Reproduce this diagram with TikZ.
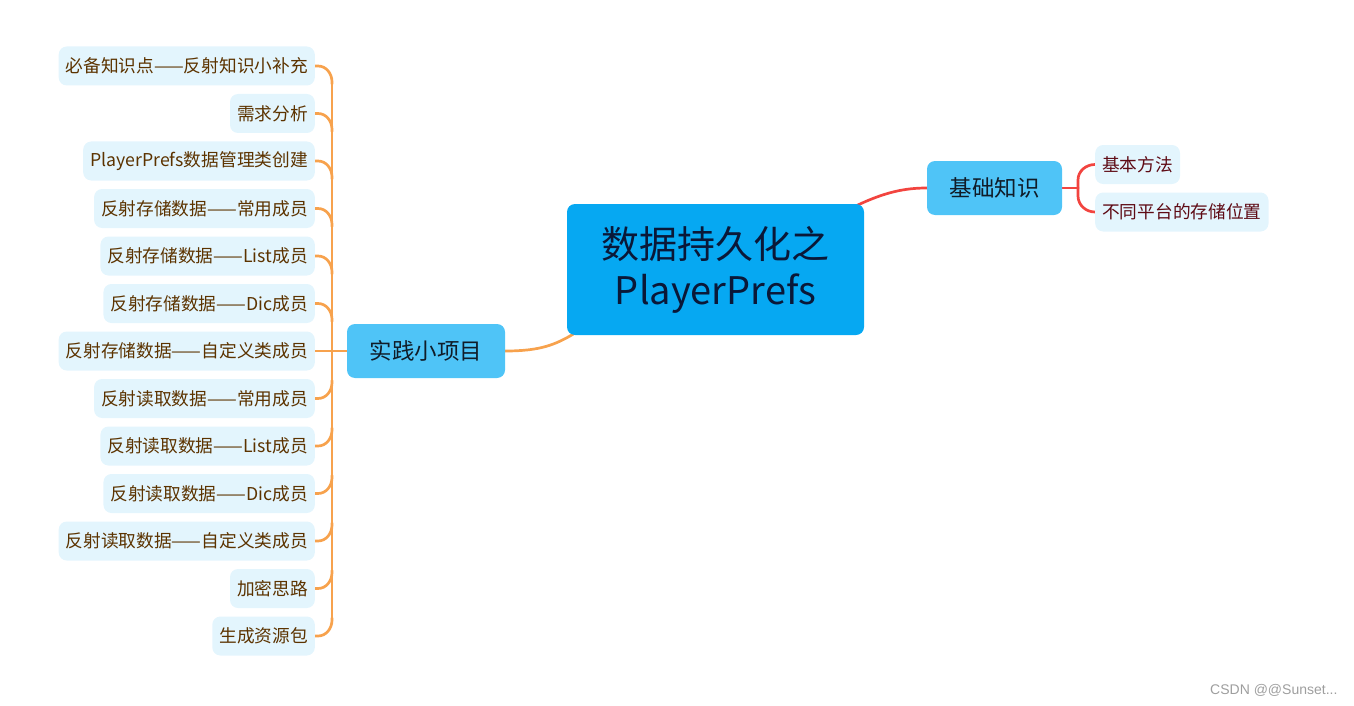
\documentclass[tikz,border=0pt]{standalone}
\usepackage{fontspec}
\setmainfont{Noto Sans CJK SC}
\newfontfamily\wmfont{Liberation Sans}
\pgfdeclarelayer{background}
\pgfsetlayers{background,main}
\definecolor{rootfill}{HTML}{06A8F2}
\definecolor{roottext}{HTML}{0A1838}
\definecolor{lonefill}{HTML}{4FC4F7}
\definecolor{lonetext}{HTML}{101C28}
\definecolor{ltwofill}{HTML}{E3F5FD}
\definecolor{lefttext}{HTML}{5C3300}
\definecolor{righttext}{HTML}{5E0A14}
\definecolor{orangeline}{HTML}{F7A24D}
\definecolor{redline}{HTML}{F2443F}
\tikzset{
  rootbox/.style={fill=rootfill, rounded corners=8pt, minimum width=297pt, minimum height=131pt,
    align=center, text=roottext, font=\fontsize{38}{46}\selectfont, inner sep=0pt},
  lonebox/.style={fill=lonefill, rounded corners=8pt, minimum height=54pt,
    text=lonetext, font=\fontsize{22.5}{26}\selectfont, inner sep=0pt},
  leafbox/.style={fill=ltwofill, rounded corners=8pt, minimum height=39pt, inner xsep=7pt, inner ysep=0pt,
    font=\fontsize{17.7}{20}\selectfont},
  leftleaf/.style={leafbox, anchor=east, text=lefttext},
  rightleaf/.style={leafbox, anchor=west, text=righttext},
  oline/.style={draw=orangeline, line width=2.7pt, line cap=round},
  rline/.style={draw=redline, line width=2.7pt, line cap=round},
}
\begin{document}
\begin{tikzpicture}[x=1pt,y=-1pt]
\useasboundingbox (0,0) rectangle (1354,706);
% root
\node[rootbox] (root) at (715.5,269.5) {数据持久化之\\PlayerPrefs};
% level one
\node[lonebox, minimum width=135pt] (jichu) at (994.5,188) {基础知识};
\node[lonebox, minimum width=158pt] (shijian) at (426,351) {实践小项目};
% right leaves
\node[rightleaf] (r1) at (1095,164.5) {基本方法};
\node[rightleaf] (r2) at (1095,212) {不同平台的存储位置};
% left leaves
\node[leftleaf] (l1) at (315,66) {必备知识点——反射知识小补充};
\node[leftleaf] (l2) at (315,113.5) {需求分析};
\node[leftleaf] (l3) at (315,161) {PlayerPrefs数据管理类创建};
\node[leftleaf] (l4) at (315,208.5) {反射存储数据——常用成员};
\node[leftleaf] (l5) at (315,256) {反射存储数据——List成员};
\node[leftleaf] (l6) at (315,303.5) {反射存储数据——Dic成员};
\node[leftleaf] (l7) at (315,351) {反射存储数据——自定义类成员};
\node[leftleaf] (l8) at (315,398.5) {反射读取数据——常用成员};
\node[leftleaf] (l9) at (315,446) {反射读取数据——List成员};
\node[leftleaf] (l10) at (315,493.5) {反射读取数据——Dic成员};
\node[leftleaf] (l11) at (315,541) {反射读取数据——自定义类成员};
\node[leftleaf] (l12) at (315,588.5) {加密思路};
\node[leftleaf] (l13) at (315,636) {生成资源包};
% watermark
\node[anchor=east, text=black!38, font=\wmfont\fontsize{14}{16}\selectfont] (wm) at (1341,690) {CSDN @@Sunset...};
% connectors
\coordinate (spinetop) at (332,82);
\coordinate (spinebot) at (332,620);
\coordinate (rbrk) at (1078,188);
\begin{pgfonlayer}{background}
  \draw[rline] ([shift={(-8,2)}]root.north east)
     .. controls (885,192) and (905,188) .. (jichu.west);
  \draw[oline] (shijian.east) .. controls (540,351) and (555,345) .. ([shift={(8,-2)}]root.south west);
  \draw[oline] (spinetop) -- (spinebot);
  \draw[oline] (l7.east) -- (shijian.west);
  \foreach \n in {l1,l2,l3,l4,l5,l6}{
    \draw[oline] (\n.east) -- ++(3,0) to[out=0,in=90] ++(14,16) -- ++(0,2);
  }
  \foreach \n in {l8,l9,l10,l11,l12,l13}{
    \draw[oline] (\n.east) -- ++(3,0) to[out=0,in=-90] ++(14,-16) -- ++(0,-2);
  }
  \draw[rline] (jichu.east) -- (rbrk);
  \draw[rline] (rbrk) -- ++(0,-8) to[out=90,in=180] (r1.west);
  \draw[rline] (rbrk) -- ++(0,8) to[out=-90,in=180] (r2.west);
\end{pgfonlayer}
\end{tikzpicture}
\end{document}
